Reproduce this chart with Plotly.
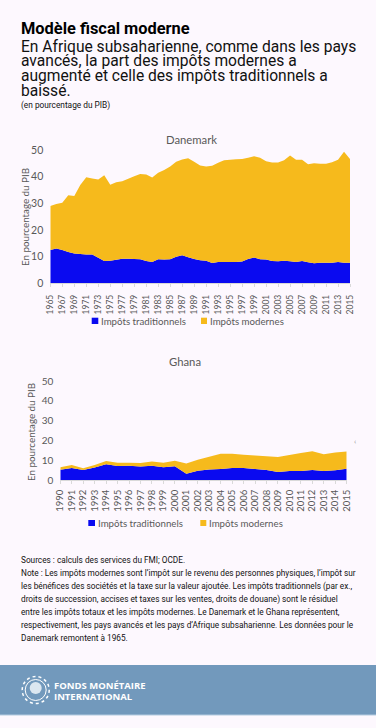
import plotly.graph_objects as go

W, H = 376, 728
BG = "#FDF8FE"
BLUE = "#0A0AF0"
GOLD = "#F6BA1C"
GREY = "#595959"
UI = "Lato"
TXT = "Roboto"

years_dk = list(range(1965, 2016))
trad_dk = [12.5, 13.1, 12.5, 11.7, 11.2, 11.0, 10.8, 10.8, 9.6, 8.4, 8.5, 8.8, 9.2, 9.2, 9.1, 9.0, 8.4,
           8.0, 9.0, 8.9, 9.0, 10.0, 10.5, 9.8, 9.1, 8.6, 8.5, 7.6, 8.0, 8.0, 8.0, 8.0, 8.2, 9.1, 9.7,
           9.0, 8.9, 8.4, 8.3, 8.5, 8.3, 8.0, 8.4, 7.9, 7.5, 7.7, 7.7, 7.7, 8.0, 7.7, 7.7]
mod_dk = [16.5, 16.6, 17.7, 21.3, 21.5, 25.9, 29.0, 28.5, 29.3, 32.1, 28.5, 29.1, 29.1, 30.0, 31.1, 32.0,
          32.4, 31.7, 32.5, 33.6, 34.8, 35.6, 35.9, 37.1, 36.5, 35.6, 35.3, 36.5, 37.2, 38.2, 38.3, 38.5,
          38.4, 38.0, 38.0, 38.1, 36.9, 36.9, 37.0, 37.7, 39.6, 38.3, 37.9, 36.8, 37.5, 37.1, 37.1, 37.7,
          38.3, 41.6, 38.9]
years_gh = list(range(1990, 2016))
trad_gh = [5.2, 6.1, 5.0, 6.3, 8.0, 7.1, 7.2, 6.8, 7.2, 6.4, 7.0, 3.2, 4.7, 5.3, 5.6, 6.0, 6.1, 5.5, 5.0,
           4.0, 4.5, 4.5, 5.0, 4.6, 4.9, 5.7]
mod_gh = [1.2, 1.5, 0.9, 1.3, 1.6, 1.6, 1.5, 1.8, 2.1, 2.3, 2.7, 5.1, 5.5, 6.5, 7.7, 7.2, 6.7, 6.9, 7.0,
          7.6, 8.1, 9.1, 9.5, 8.4, 9.0, 8.7]
y_ticks = [0, 10, 20, 30, 40, 50]
ytitle = "En pourcentage du PIB"
name_trad = "Impôts traditionnels"
name_mod = "Impôts modernes"
sub_lines = ["En Afrique subsaharienne, comme dans les pays",
             "avancés, la part des impôts modernes a",
             "augmenté et celle des impôts traditionnels a",
             "baissé."]
note_lines = ["Sources : calculs des services du FMI; OCDE.",
              "Note : Les impôts modernes sont l’impôt sur le revenu des personnes physiques, l’impôt sur",
              "les bénéfices des sociétés et la taxe sur la valeur ajoutée. Les impôts traditionnels (par ex.,",
              "droits de succession, accises et taxes sur les ventes, droits de douane) sont le résiduel",
              "entre les impôts totaux et les impôts modernes. Le Danemark et le Ghana représentent,",
              "respectivement, les pays avancés et les pays d’Afrique subsaharienne. Les données pour le",
              "Danemark remontent à 1965."]


def fx(p):
    return p / W


def fy(p):
    return 1 - p / H


fig = go.Figure()
for xs, tr, mo, xa, ya, sg in [
    (years_dk, trad_dk, mod_dk, "x", "y", "a"),
    (years_gh, trad_gh, mod_gh, "x2", "y2", "b"),
]:
    fig.add_trace(go.Scatter(x=xs, y=tr, name=name_trad, stackgroup=sg, mode="none",
                             fillcolor=BLUE, xaxis=xa, yaxis=ya, showlegend=False))
    fig.add_trace(go.Scatter(x=xs, y=mo, name=name_mod, stackgroup=sg, mode="none",
                             fillcolor=GOLD, xaxis=xa, yaxis=ya, showlegend=False))


def xaxis(domain, dtick, start, end, anchor, size, off):
    return dict(domain=domain, range=[start, end], dtick=dtick, tick0=start, tickangle=-90,
                tickfont=dict(family=UI, size=size, color=GREY),
                showgrid=False, zeroline=False, showline=True, linecolor="#D9D9D9", linewidth=1,
                ticks="outside", ticklen=3, tickcolor="#D9D9D9", anchor=anchor, ticklabelstandoff=off)


def yaxis(domain, anchor, size):
    return dict(domain=domain, range=[0, 50], tickvals=y_ticks, tickfont=dict(family=UI, size=size, color=GREY),
                showgrid=False, zeroline=False, showline=False, anchor=anchor, ticklabelstandoff=6)


ann = []


def text(x, y, s, size, family=TXT, color="#111111", bold=False, align="left", angle=0):
    ann.append(dict(xref="paper", yref="paper", x=fx(x - 2 if align == "left" else x), y=fy(y),
                    text=f"<b>{s}</b>" if bold else s, textangle=angle,
                    showarrow=False, xanchor=align, yanchor="middle", align=align,
                    font=dict(family=family, size=size, color=color)))


text(21, 29, "Modèle fiscal moderne", 16.4, color="#000000", bold=True)
for i, s in enumerate(sub_lines):
    text(21, 46.7 + i * 14.7, s, 15.6)
text(21, 105.5, "(en pourcentage du PIB)", 8.3)
text(191, 139, "Danemark", 11.3, UI, GREY, align="center")
text(184.5, 361, "Ghana", 11.3, UI, GREY, align="center")
text(25, 217, ytitle, 9.8, UI, GREY, align="center", angle=-90)
text(31, 432, ytitle, 9.8, UI, GREY, align="center", angle=-90)
for lx, gx, ly in [(100.7, 210, 320.7), (97.7, 209, 522.7)]:
    text(lx, ly, name_trad, 9.7, UI, GREY)
    text(gx, ly, name_mod, 9.7, UI, GREY)
for i, s in enumerate(note_lines):
    text(21, 560 + i * 13, s, 8.25)
text(54.3, 685.7, "FONDS MONÉTAIRE", 9.5, "Open Sans", "#FFFFFF", True)
text(54.3, 696, "INTERNATIONAL", 9.5, "Open Sans", "#FFFFFF", True)
text(355, 441.5, "‹", 8, UI, "#999999", align="center")


def circle(cx, cy, r, **kw):
    return dict(type="circle", xref="paper", yref="paper", x0=fx(cx - r), x1=fx(cx + r),
                y0=fy(cy + r), y1=fy(cy - r), layer="above", **kw)


def box(x0, x1, y0, y1, color, layer="above"):
    return dict(type="rect", xref="paper", yref="paper", x0=fx(x0), x1=fx(x1), y0=fy(y1), y1=fy(y0),
                layer=layer, fillcolor=color, line=dict(width=0))


shapes = [
    box(0, W, 665, 715, "#7299BC", "below"),
    box(0, W, 714.5, 715.5, "#B4CBDF", "below"),
    box(91.7, 98.3, 317.7, 324, BLUE),
    box(201, 207, 317.7, 324, GOLD),
    box(88.3, 95, 520, 526, BLUE),
    box(200.3, 206.3, 520, 526, GOLD),
    circle(35.7, 690, 13.5, line=dict(color="#FFFFFF", width=1.5, dash="dot")),
    circle(35.7, 690, 10.5, line=dict(color="#FFFFFF", width=1)),
    circle(35.7, 688, 6, fillcolor="#DCE7F0", line=dict(width=0)),
]

fig.update_layout(
    width=W, height=H, margin=dict(l=0, r=0, t=0, b=0, pad=0, autoexpand=False),
    paper_bgcolor=BG, plot_bgcolor=BG, showlegend=False,
    xaxis=xaxis([fx(50.3), fx(350)], 2, 1965, 2015, "y", 8.5, 4),
    yaxis=yaxis([fy(283.3), fy(150)], "x", 10.5),
    xaxis2=xaxis([fx(60.3), fx(346.7)], 1, 1990, 2015, "y2", 9.5, 2),
    yaxis2=yaxis([fy(480), fy(381)], "x2", 10),
    annotations=ann, shapes=shapes,
)
fig.write_html("out.html", config=dict(displayModeBar=False),
               post_script="document.body.style.margin='0';document.body.style.background='%s';" % BG)
